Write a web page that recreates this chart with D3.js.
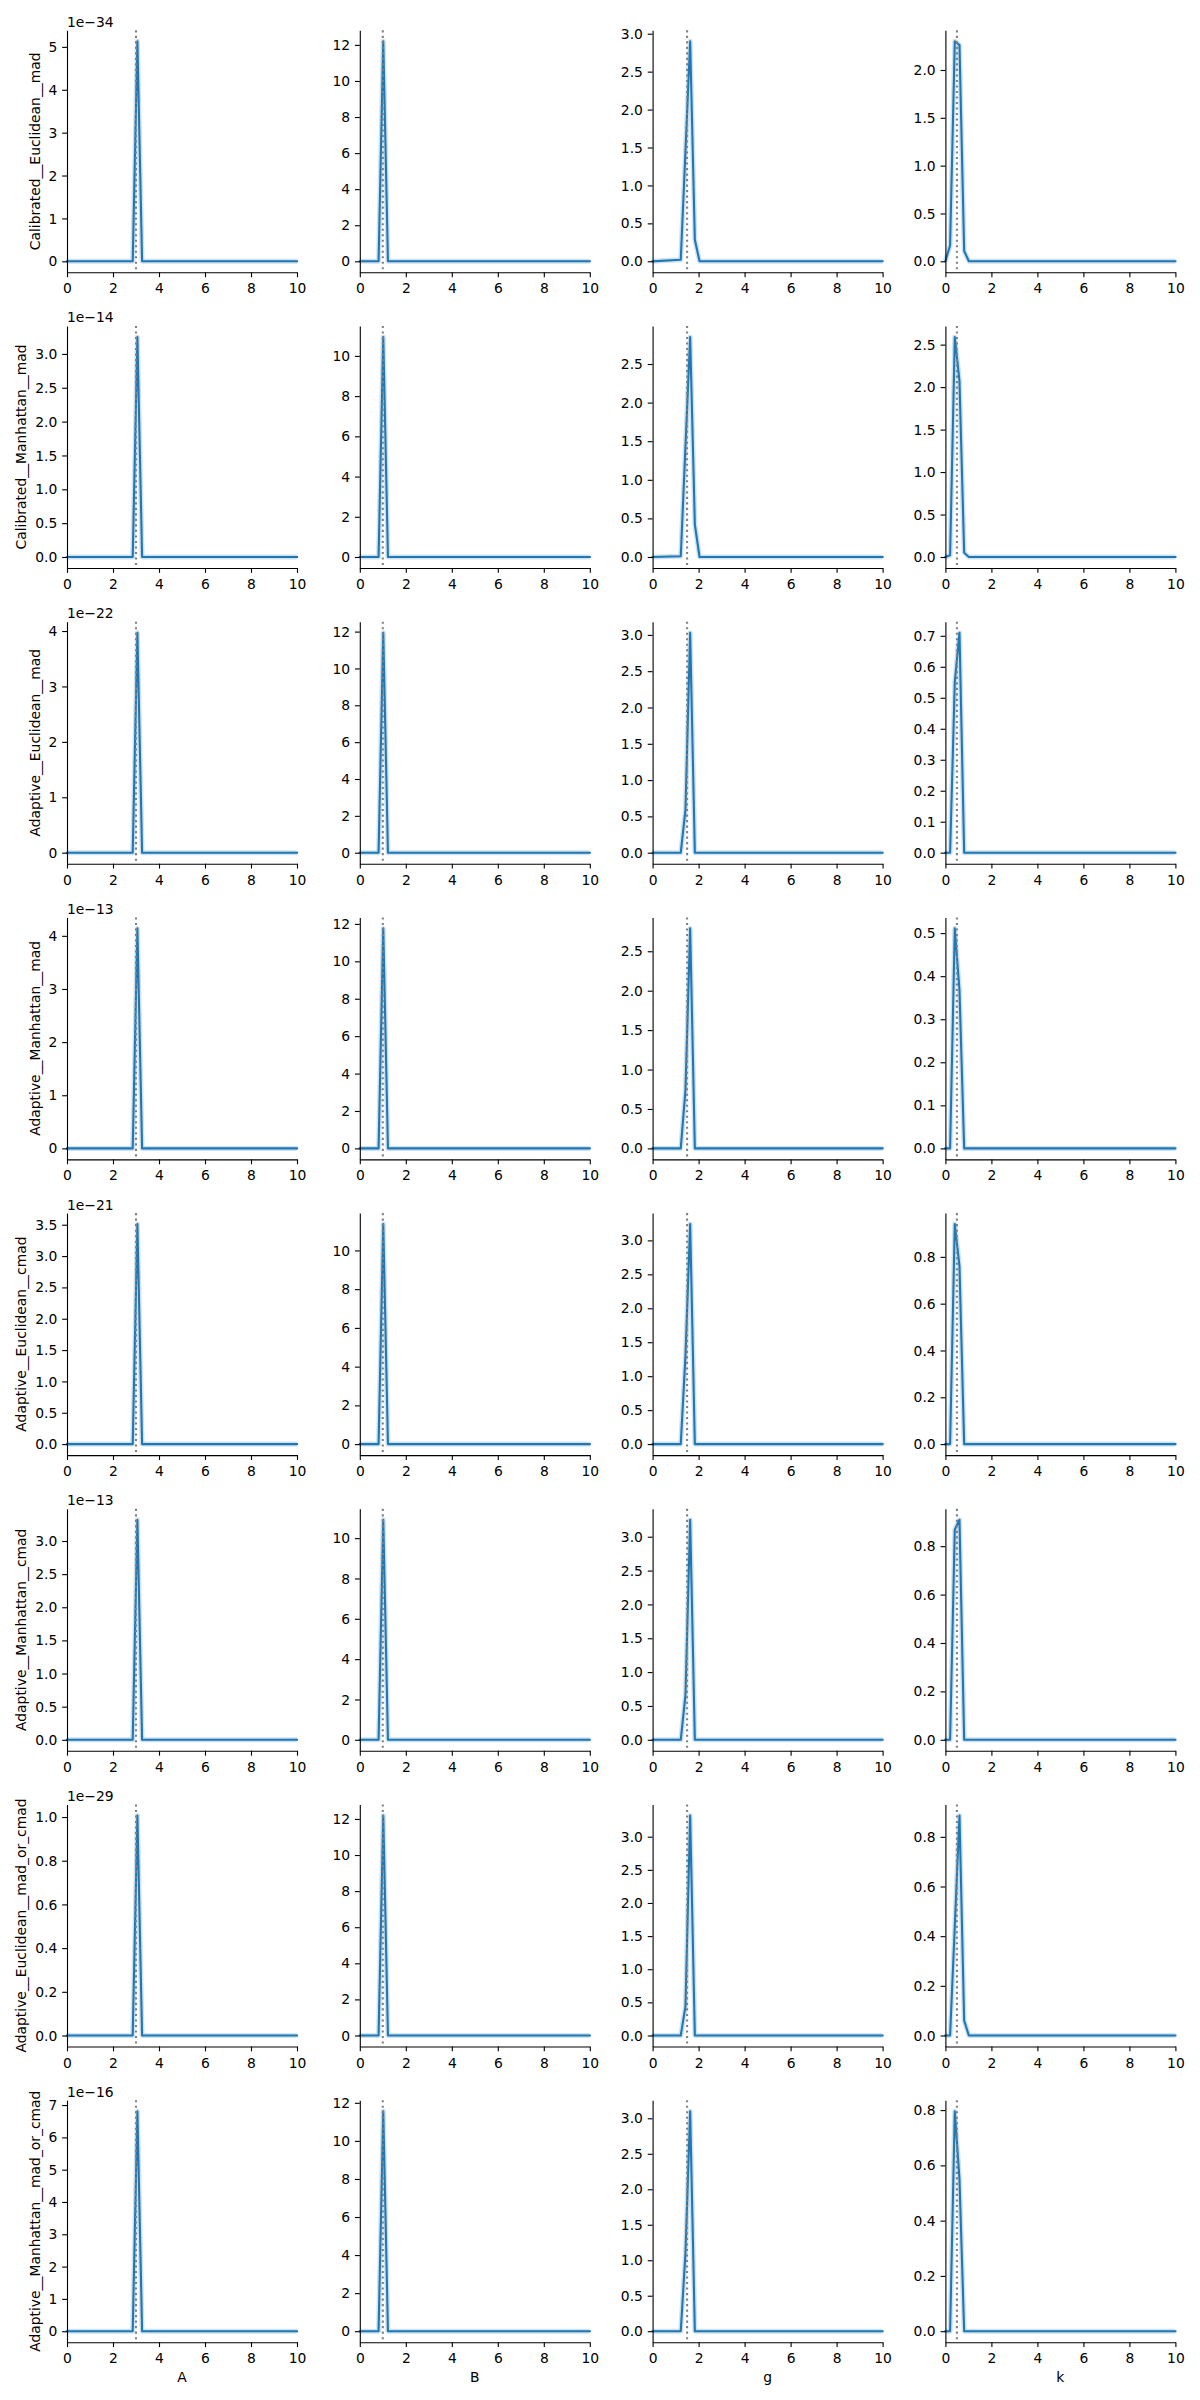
<!DOCTYPE html>
<html>
<head>
<meta charset="utf-8">
<script src="https://cdn.jsdelivr.net/npm/d3@7"></script>
<style>
  body { margin: 0; background: #ffffff; }
  text { font-family: "DejaVu Sans", sans-serif; }
</style>
</head>
<body>
<script>
// ---------------- data ----------------
const params = ["A", "B", "g", "k"];
const trueValues = [3, 1, 1.5, 0.5];
const methods = [
  "Calibrated__Euclidean__mad",
  "Calibrated__Manhattan__mad",
  "Adaptive__Euclidean__mad",
  "Adaptive__Manhattan__mad",
  "Adaptive__Euclidean__cmad",
  "Adaptive__Manhattan__cmad",
  "Adaptive__Euclidean__mad_or_cmad",
  "Adaptive__Manhattan__mad_or_cmad"
];
// offset exponent shown above column A panels
const offsetExponents = [-34, -14, -22, -13, -21, -13, -29, -16];
// y tick step per row for columns A, B, g, k
const yTickSteps = [
  [1, 2, 0.5, 0.5],
  [0.5, 2, 0.5, 0.5],
  [1, 2, 0.5, 0.1],
  [1, 2, 0.5, 0.1],
  [0.5, 2, 0.5, 0.2],
  [0.5, 2, 0.5, 0.2],
  [0.2, 2, 0.5, 0.2],
  [1, 2, 0.5, 0.2]
];
const xTicks = [0, 2, 4, 6, 8, 10];

// density curves: [x, density] points (grid 0..10, 50 points; zero elsewhere)
const densityA = [
  [[0,0],[2.857,0],[3.061,5.13e-34],[3.265,0],[10,0]],
  [[0,0],[2.857,0],[3.061,3.25e-14],[3.265,0],[10,0]],
  [[0,0],[2.857,0],[3.061,3.97e-22],[3.265,0],[10,0]],
  [[0,0],[2.857,0],[3.061,4.14e-13],[3.265,0],[10,0]],
  [[0,0],[2.857,0],[3.061,3.51e-21],[3.265,0],[10,0]],
  [[0,0],[2.857,0],[3.061,3.32e-13],[3.265,0],[10,0]],
  [[0,0],[2.857,0],[3.061,1.007e-29],[3.265,0],[10,0]],
  [[0,0],[2.857,0],[3.061,6.81e-16],[3.265,0],[10,0]]
];
const densityB = [
  [[0,0],[0.816,0],[1.020,12.2],[1.224,0],[10,0]],
  [[0,0],[0.816,0],[1.020,10.94],[1.224,0],[10,0]],
  [[0,0],[0.816,0],[1.020,11.94],[1.224,0],[10,0]],
  [[0,0],[0.816,0],[1.020,11.76],[1.224,0],[10,0]],
  [[0,0],[0.816,0],[1.020,11.36],[1.224,0],[10,0]],
  [[0,0],[0.816,0],[1.020,10.91],[1.224,0],[10,0]],
  [[0,0],[0.816,0],[1.020,12.19],[1.224,0],[10,0]],
  [[0,0],[0.816,0],[1.020,11.56],[1.224,0],[10,0]]
];
const densityG = [
  [[0,0],[1.224,0.02],[1.429,1.45],[1.633,2.90],[1.837,0.285],[2.041,0],[10,0]],
  [[0,0],[1.224,0.01],[1.429,1.43],[1.633,2.85],[1.837,0.42],[2.041,0],[10,0]],
  [[0,0],[1.224,0],[1.429,0.59],[1.633,3.03],[1.837,0],[10,0]],
  [[0,0],[1.224,0],[1.429,0.74],[1.633,2.79],[1.837,0],[10,0]],
  [[0,0],[1.224,0],[1.429,1.3],[1.633,3.24],[1.837,0],[10,0]],
  [[0,0],[1.224,0],[1.429,0.66],[1.633,3.25],[1.837,0],[10,0]],
  [[0,0],[1.224,0],[1.429,0.44],[1.633,3.32],[1.837,0],[10,0]],
  [[0,0],[1.224,0],[1.429,1.1],[1.633,3.10],[1.837,0],[10,0]]
];
const densityK = [
  [[0,0],[0.204,0.167],[0.408,2.30],[0.612,2.26],[0.816,0.108],[1.020,0],[10,0]],
  [[0,0],[0.204,0.02],[0.408,2.59],[0.612,2.07],[0.816,0.05],[1.020,0],[10,0]],
  [[0,0],[0.204,0],[0.408,0.55],[0.612,0.71],[0.816,0],[10,0]],
  [[0,0],[0.204,0],[0.408,0.511],[0.612,0.367],[0.816,0],[10,0]],
  [[0,0],[0.204,0],[0.408,0.94],[0.612,0.76],[0.816,0],[10,0]],
  [[0,0],[0.204,0],[0.408,0.868],[0.612,0.909],[0.816,0],[10,0]],
  [[0,0],[0.204,0],[0.408,0.44],[0.612,0.886],[0.816,0.06],[1.020,0],[10,0]],
  [[0,0],[0.204,0],[0.408,0.796],[0.612,0.55],[0.816,0],[10,0]]
];
const densities = [densityA, densityB, densityG, densityK];

// ---------------- layout ----------------
const FONT = 13.89;
const L0 = 67, colPitch = 292.8, W = 230;
const T0 = 30.3, rowPitch = 295.7, H = 242;
const TICK = 4.86, PAD = 4.86;
const lineColor = "#1f77b4";

const svg = d3.select("body").append("svg")
  .attr("width", 1200).attr("height", 2400)
  .style("background", "#ffffff");

methods.forEach((method, r) => {
  params.forEach((param, c) => {
    const data = densities[c][r];
    const factor = c === 0 ? Math.pow(10, offsetExponents[r]) : 1;
    const maxV = d3.max(data, d => d[1] / factor);
    const ymin = -0.05 * maxV, ymax = 1.05 * maxV;
    const step = yTickSteps[r][c];
    const yTicks = d3.range(Math.ceil(ymin / step - 1e-9), Math.floor(ymax / step + 1e-9) + 1)
      .map(i => +(i * step).toFixed(4));
    const fmt = d => step < 1 ? d.toFixed(1) : d.toFixed(0);

    const x = d3.scaleLinear().domain([0, 10]).range([0, W]);
    const y = d3.scaleLinear().domain([ymin, ymax]).range([H, 0]);

    const g = svg.append("g")
      .attr("transform", `translate(${L0 + c * colPitch},${T0 + r * rowPitch})`);

    const line = d3.line().x(d => x(d[0])).y(d => y(d[1] / factor));

    // faint uncertainty band
    g.append("path").datum(data)
      .attr("d", line)
      .attr("fill", "none")
      .attr("stroke", lineColor)
      .attr("stroke-opacity", 0.22)
      .attr("stroke-width", 5)
      .attr("stroke-linejoin", "round");
    // main line
    g.append("path").datum(data)
      .attr("d", line)
      .attr("fill", "none")
      .attr("stroke", lineColor)
      .attr("stroke-width", 2.08)
      .attr("stroke-linejoin", "round")
      .attr("stroke-linecap", "square");

    // true value dotted line
    g.append("line")
      .attr("x1", x(trueValues[c])).attr("x2", x(trueValues[c]))
      .attr("y1", 0).attr("y2", H)
      .attr("stroke", "#808080")
      .attr("stroke-width", 2.08)
      .attr("stroke-dasharray", "2.08,3.43");

    // x axis
    const xa = g.append("g").attr("transform", `translate(0,${H})`)
      .call(d3.axisBottom(x).tickValues(xTicks).tickFormat(d3.format("d"))
        .tickSize(TICK).tickPadding(PAD).tickSizeOuter(0));
    xa.selectAll("text").attr("y", 21).attr("dy", null)
      .style("font-family", "DejaVu Sans").style("font-size", FONT + "px").attr("fill", "#000");
    xa.select(".domain").attr("stroke", "#000").attr("stroke-width", 1.11);
    xa.selectAll(".tick line").attr("stroke", "#000").attr("stroke-width", 1.11);

    // y axis
    const ya = g.append("g")
      .call(d3.axisLeft(y).tickValues(yTicks).tickFormat(fmt)
        .tickSize(TICK).tickPadding(PAD).tickSizeOuter(0));
    ya.selectAll("text").style("font-family", "DejaVu Sans").style("font-size", FONT + "px")
      .attr("fill", "#000").attr("dy", "0.33em");
    ya.select(".domain").attr("stroke", "#000").attr("stroke-width", 1.11);
    ya.selectAll(".tick line").attr("stroke", "#000").attr("stroke-width", 1.11);

    // offset text
    if (c === 0) {
      g.append("text")
        .attr("x", 0).attr("y", -3.6)
        .style("font-size", FONT + "px")
        .attr("fill", "#000")
        .text("1e\u2212" + Math.abs(offsetExponents[r]));
    }

    // y label
    if (c === 0) {
      let minX = 0;
      ya.selectAll("text").each(function () {
        const b = this.getBBox();
        minX = Math.min(minX, b.x);
      });
      const bx = minX - 5.56 - 0.236 * FONT;
      g.append("text")
        .attr("transform", `translate(${bx},${H / 2}) rotate(-90)`)
        .attr("text-anchor", "middle")
        .style("font-size", FONT + "px")
        .attr("fill", "#000")
        .text(method);
    }

    // x label
    if (r === methods.length - 1) {
      g.append("text")
        .attr("x", W / 2).attr("y", H + 39.5)
        .attr("text-anchor", "middle")
        .style("font-size", FONT + "px")
        .attr("fill", "#000")
        .text(param);
    }
  });
});
</script>
</body>
</html>
